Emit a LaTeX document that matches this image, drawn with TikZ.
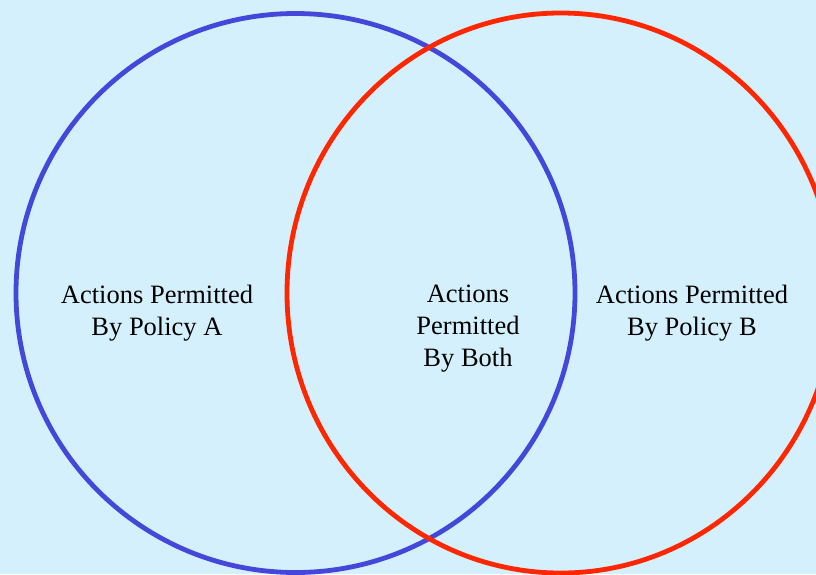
\documentclass[tikz,border=0pt]{standalone}
\usepackage{fontspec}
\setmainfont{Liberation Serif}
\definecolor{bgc}{RGB}{212,240,253}
\definecolor{blueA}{RGB}{68,72,218}
\definecolor{redB}{RGB}{255,38,0}
\begin{document}
\begin{tikzpicture}[x=1pt,y=-1pt,
  ring/.style={line width=4.8pt},
  lbl/.style={align=center,font=\fontsize{26.5}{32}\selectfont,inner sep=0pt}]
\fill[bgc] (0,0) rectangle (816,574);
\useasboundingbox (0,0) rectangle (816,574);
\draw[ring,blueA] (295.5,293) circle[radius=279.5];
\draw[ring,redB] (560.7,293) ellipse[x radius=273.7,y radius=280];
\node[lbl] (a) at (157,313) {Actions Permitted\\By Policy A};
\node[lbl] (both) at (468,329) {Actions\\Permitted\\By Both};
\node[lbl] (b) at (692,313) {Actions Permitted\\By Policy B};
\end{tikzpicture}
\end{document}
